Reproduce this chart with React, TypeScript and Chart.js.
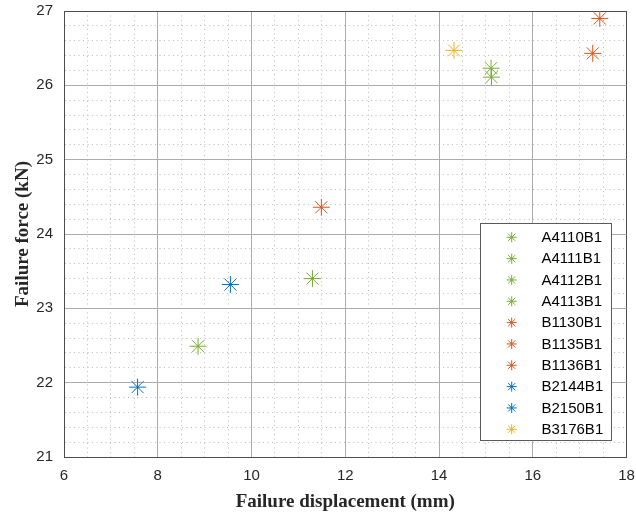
import React, { useEffect, useRef } from 'react';
import { Chart, registerables } from 'chart.js';

Chart.register(...registerables);

// ---- data ----
const seriesNames = [
  'A4110B1', 'A4111B1', 'A4112B1', 'A4113B1',
  'B1130B1', 'B1135B1', 'B1136B1',
  'B2144B1', 'B2150B1',
  'B3176B1',
];
const seriesColors = [
  '#77AC30', '#77AC30', '#77AC30', '#77AC30',
  '#D95319', '#D95319', '#D95319',
  '#0072BD', '#0072BD',
  '#EDB120',
];
const displacement = [8.86, 11.3, 15.11, 15.12, 11.49, 17.28, 17.43, 7.57, 9.55, 14.32];
const force = [22.49, 23.4, 26.23, 26.11, 24.36, 26.43, 26.9, 21.94, 23.32, 26.47];

const xTickLabels = ['6', '8', '10', '12', '14', '16', '18'];
const yTickLabels = ['21', '22', '23', '24', '25', '26', '27'];

const xTitle = 'Failure displacement (mm)';
const yTitle = 'Failure force (kN)';

const X_MIN = 6, X_MAX = 18, X_MAJOR = 2, X_MINOR = 0.5;
const Y_MIN = 21, Y_MAX = 27, Y_MAJOR = 1, Y_MINOR = 0.2;

const near = (a: number, b: number) => Math.abs(a - b) < 1e-6;
const isMajor = (v: number, step: number, min: number) => {
  const k = (v - min) / step;
  return near(k, Math.round(k));
};

const TICK_COLOR = '#262626';
const MAJOR_GRID = '#ababab';
const MINOR_GRID = '#bdbdbd';
const BOX_COLOR = '#4d4d4d';
const MINOR_DASH = [1, 3.5];

function drawStar(ctx: CanvasRenderingContext2D, x: number, y: number, r: number) {
  ctx.beginPath();
  for (let i = 0; i < 4; i++) {
    const a = (i * Math.PI) / 4;
    const dx = Math.cos(a) * r;
    const dy = Math.sin(a) * r;
    ctx.moveTo(x - dx, y - dy);
    ctx.lineTo(x + dx, y + dy);
  }
  ctx.stroke();
}

const legendPlugin = {
  id: 'insideLegend',
  afterDraw(chart: any) {
    const ctx: CanvasRenderingContext2D = chart.ctx;
    const ds = chart.data.datasets;
    const left = 480.5, top = 223.5, width = 131, height = 217;
    ctx.save();
    ctx.fillStyle = '#ffffff';
    ctx.fillRect(left, top, width, height);
    ctx.strokeStyle = '#5a5a5a';
    ctx.lineWidth = 1;
    ctx.strokeRect(left, top, width, height);
    ctx.font = '15px "Liberation Sans", Arial, sans-serif';
    ctx.textBaseline = 'middle';
    ctx.textAlign = 'left';
    const rowH = 21.33;
    const y0 = 237.3;
    ds.forEach((d: any, i: number) => {
      const y = y0 + i * rowH;
      ctx.strokeStyle = d.borderColor;
      ctx.lineWidth = 1;
      drawStar(ctx, 511.7, y, 5);
      ctx.fillStyle = '#000000';
      ctx.fillText(d.label, 541.5, y + 0.5);
    });
    ctx.restore();
  },
};

export default function App() {
  const ref = useRef<HTMLCanvasElement>(null);

  useEffect(() => {
    if (!ref.current) return;
    const datasets = seriesNames.map((name, i) => ({
      label: name,
      data: [{ x: displacement[i], y: force[i] }],
      borderColor: seriesColors[i],
      backgroundColor: seriesColors[i],
      pointStyle: 'star',
      pointRadius: 8.5,
      pointHoverRadius: 8.5,
      borderWidth: 1,
      showLine: false,
    }));

    const chart = new Chart(ref.current, {
      type: 'scatter',
      data: { datasets } as any,
      options: {
        animation: false,
        responsive: false,
        layout: { padding: { top: 11, right: 0, left: 0, bottom: 0 } },
        plugins: {
          legend: { display: false },
          tooltip: { enabled: false },
        },
        scales: {
          x: {
            type: 'linear',
            min: X_MIN,
            max: X_MAX,
            afterFit: (s: any) => {
              s.height = 58;
              s.paddingLeft = 0;
              s.paddingRight = 8;
            },
            ticks: {
              stepSize: X_MINOR,
              autoSkip: false,
              maxRotation: 0,
              padding: 10,
              color: TICK_COLOR,
              font: { family: '"Liberation Sans", Arial, sans-serif', size: 15 },
              callback: (v: any) => {
                const n = Number(v);
                if (!isMajor(n, X_MAJOR, X_MIN)) return '';
                return xTickLabels[Math.round((n - X_MIN) / X_MAJOR)];
              },
            },
            grid: {
              drawTicks: false,
              lineWidth: 1,
              color: (c: any) => {
                const v = c.tick ? c.tick.value : X_MIN;
                if (near(v, X_MAX)) return BOX_COLOR;
                return isMajor(v, X_MAJOR, X_MIN) ? MAJOR_GRID : MINOR_GRID;
              },
            },
            border: {
              display: true,
              color: BOX_COLOR,
              width: 1,
              dash: (c: any) => {
                if (!c.tick) return [];
                return isMajor(c.tick.value, X_MAJOR, X_MIN) ? [] : MINOR_DASH;
              },
            },
            title: {
              display: true,
              text: xTitle,
              color: '#262626',
              font: { family: '"Liberation Serif", "Times New Roman", serif', size: 19, weight: 'bold' },
              padding: { top: 0, bottom: 2 },
            },
          },
          y: {
            type: 'linear',
            min: Y_MIN,
            max: Y_MAX,
            afterFit: (s: any) => {
              s.width = 64;
              s.paddingTop = 11;
              s.paddingBottom = 0;
            },
            ticks: {
              stepSize: Y_MINOR,
              autoSkip: false,
              padding: 11,
              color: TICK_COLOR,
              font: { family: '"Liberation Sans", Arial, sans-serif', size: 15 },
              callback: (v: any) => {
                const n = Number(v);
                if (!isMajor(n, Y_MAJOR, Y_MIN)) return '';
                return yTickLabels[Math.round((n - Y_MIN) / Y_MAJOR)];
              },
            },
            grid: {
              drawTicks: false,
              lineWidth: 1,
              color: (c: any) => {
                const v = c.tick ? c.tick.value : Y_MIN;
                if (near(v, Y_MAX)) return BOX_COLOR;
                return isMajor(v, Y_MAJOR, Y_MIN) ? MAJOR_GRID : MINOR_GRID;
              },
            },
            border: {
              display: true,
              color: BOX_COLOR,
              width: 1,
              dash: (c: any) => {
                if (!c.tick) return [];
                return isMajor(c.tick.value, Y_MAJOR, Y_MIN) ? [] : MINOR_DASH;
              },
            },
            title: {
              display: true,
              text: yTitle,
              color: '#262626',
              font: { family: '"Liberation Serif", "Times New Roman", serif', size: 19, weight: 'bold' },
              padding: { top: 12, bottom: 0 },
            },
          },
        },
      } as any,
      plugins: [legendPlugin],
    });
    return () => chart.destroy();
  }, []);

  return (
    <div style={{ position: 'absolute', left: 0, top: 0, width: 636, height: 515, background: '#fff' }}>
      <canvas ref={ref} width={636} height={515} style={{ display: 'block' }} />
    </div>
  );
}
